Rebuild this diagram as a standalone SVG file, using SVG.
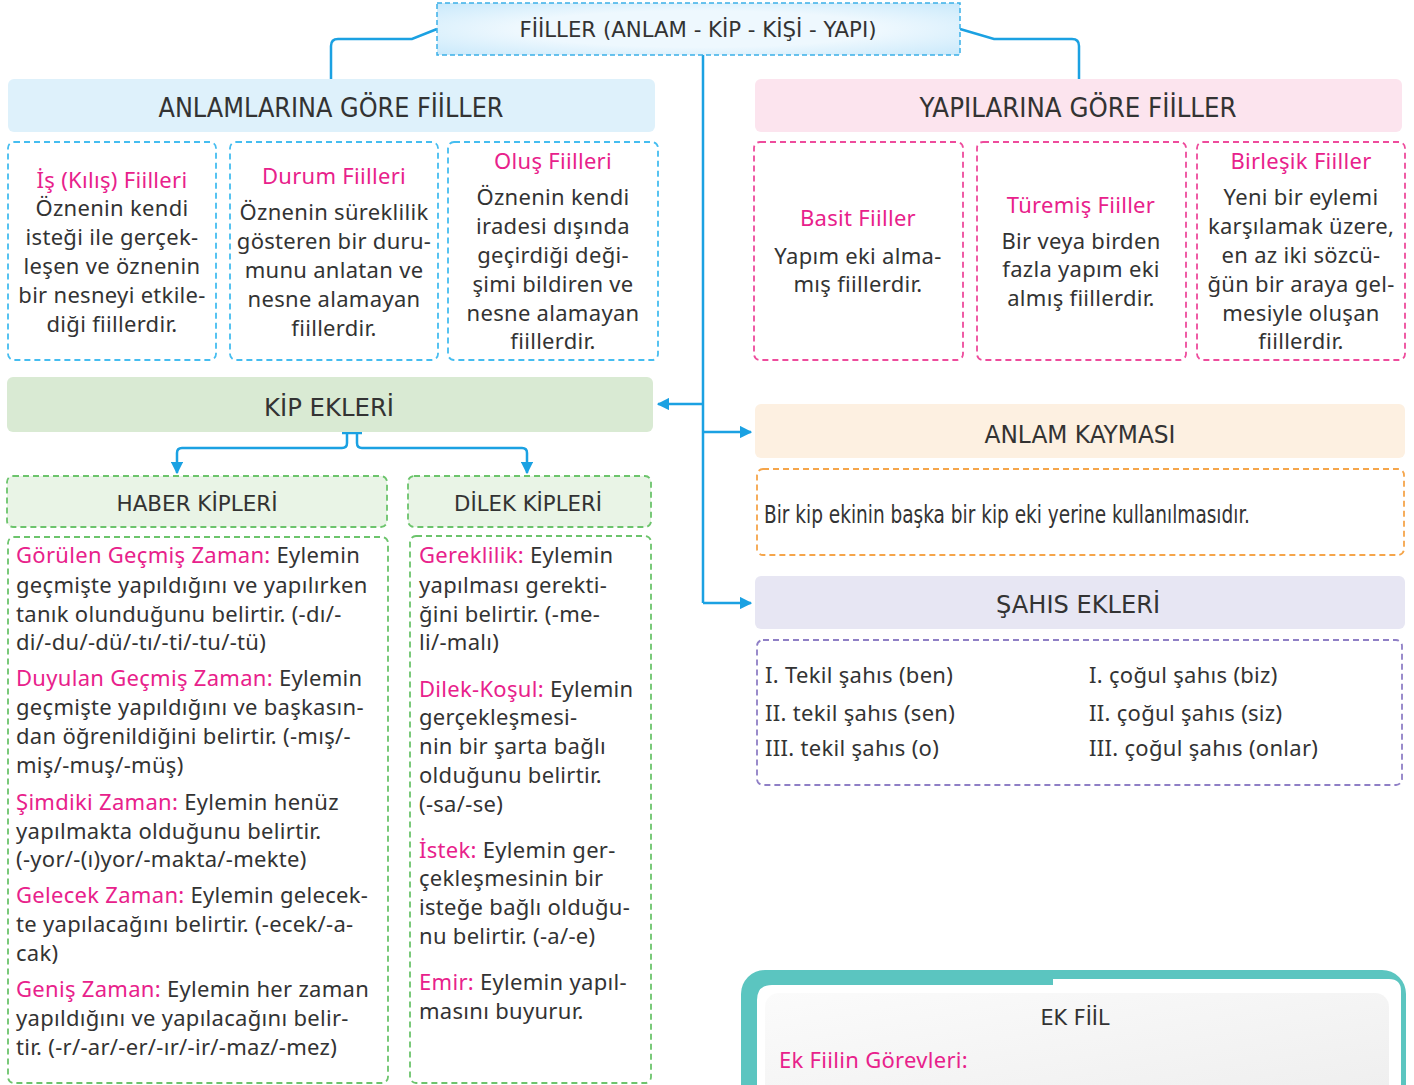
<svg xmlns="http://www.w3.org/2000/svg" width="1414" height="1085" viewBox="0 0 1414 1085">
<style>
.hd{font-family:"DejaVu Sans Condensed","Liberation Sans",sans-serif;fill:#333;text-anchor:middle}
.bd{font-family:"Noto Sans","Open Sans",sans-serif;font-size:22px;letter-spacing:0.3px;fill:#333}
.c{text-anchor:middle}
.pk{fill:#e8218b}
.conn{fill:none;stroke:#1ba1e2;stroke-width:2.5}
.dbl{fill:#fff;stroke:#45bdf0;stroke-width:1.8;stroke-dasharray:6 4}
.dpk{fill:#fff;stroke:#ee4b9c;stroke-width:1.8;stroke-dasharray:6 4}
.dgr{stroke:#6cc46c;stroke-width:1.8;stroke-dasharray:6 4}
</style>
<defs>
<marker id="ah" viewBox="0 0 10 10" refX="9" refY="5" markerWidth="5" markerHeight="5" orient="auto" markerUnits="strokeWidth">
<path d="M0,0 L10,5 L0,10 Z" fill="#1ba1e2"/>
</marker>
<radialGradient id="tg" cx="0.5" cy="0.5" r="0.7">
<stop offset="0.5" stop-color="#eef8fe"/>
<stop offset="1" stop-color="#c9e9fb"/>
</radialGradient>
<linearGradient id="eg" x1="0" y1="0" x2="1" y2="1">
<stop offset="0" stop-color="#fbfbfb"/>
<stop offset="1" stop-color="#eeeeee"/>
</linearGradient>
</defs>
<rect width="1414" height="1085" fill="#fff"/>

<g id="connectors">
<path class="conn" d="M437,29 L412,39 L338,39 Q331,39 331,46 L331,79"/>
<path class="conn" d="M960,29 L994,39 L1072,39 Q1079,39 1079,46 L1079,79"/>
<path class="conn" d="M703,55 V603"/>
<path class="conn" d="M703,404 H658" marker-end="url(#ah)"/>
<path class="conn" d="M703,432 H751" marker-end="url(#ah)"/>
<path class="conn" d="M703,603 H751" marker-end="url(#ah)"/>
<path class="conn" d="M342,433 H362"/>
<path class="conn" d="M347,433 V443 Q347,448 342,448 H182 Q177,448 177,453 V473" marker-end="url(#ah)"/>
<path class="conn" d="M357,433 V443 Q357,448 362,448 H522 Q527,448 527,453 V473" marker-end="url(#ah)"/>
</g>

<g id="title">
<rect x="437" y="3" width="523" height="52" fill="url(#tg)" stroke="#3bb0e8" stroke-width="1.5" stroke-dasharray="5 3"/>
<text class="hd" x="698" y="37" font-size="21" textLength="357" lengthAdjust="spacingAndGlyphs">FİİLLER (ANLAM - KİP - KİŞİ - YAPI)</text>
</g>

<g id="anlam-header">
<rect x="8" y="79" width="647" height="53" rx="6" fill="#def1fb"/>
<text class="hd" x="331" y="117" font-size="26" textLength="345" lengthAdjust="spacingAndGlyphs">ANLAMLARINA GÖRE FİİLLER</text>
</g>
<g id="yapi-header">
<rect x="755" y="79" width="647" height="53" rx="6" fill="#fce4ee"/>
<text class="hd" x="1078" y="117" font-size="26" textLength="317" lengthAdjust="spacingAndGlyphs">YAPILARINA GÖRE FİİLLER</text>
</g>

<g id="is-fiilleri">
<rect class="dbl" x="8" y="142" width="208" height="218" rx="6"/>
<text class="bd c" x="112"><tspan class="pk" x="112" y="188">İş (Kılış) Fiilleri</tspan><tspan x="112" y="216">Öznenin kendi</tspan><tspan x="112" y="245">isteği ile gerçek-</tspan><tspan x="112" y="274">leşen ve öznenin</tspan><tspan x="112" y="303">bir nesneyi etkile-</tspan><tspan x="112" y="332">diği fiillerdir.</tspan></text>
</g>
<g id="durum-fiilleri">
<rect class="dbl" x="230" y="142" width="208" height="218" rx="6"/>
<text class="bd c" x="334"><tspan class="pk" x="334" y="184">Durum Fiilleri</tspan><tspan x="334" y="220">Öznenin süreklilik</tspan><tspan x="334" y="249">gösteren bir duru-</tspan><tspan x="334" y="278">munu anlatan ve</tspan><tspan x="334" y="307">nesne alamayan</tspan><tspan x="334" y="336">fiillerdir.</tspan></text>
</g>
<g id="olus-fiilleri">
<rect class="dbl" x="448" y="142" width="210" height="218" rx="6"/>
<text class="bd c" x="553"><tspan class="pk" x="553" y="169">Oluş Fiilleri</tspan><tspan x="553" y="205">Öznenin kendi</tspan><tspan x="553" y="234">iradesi dışında</tspan><tspan x="553" y="263">geçirdiği deği-</tspan><tspan x="553" y="292">şimi bildiren ve</tspan><tspan x="553" y="321">nesne alamayan</tspan><tspan x="553" y="349">fiillerdir.</tspan></text>
</g>
<g id="basit-fiiller">
<rect class="dpk" x="754" y="142" width="209" height="218" rx="6"/>
<text class="bd c" x="858"><tspan class="pk" x="858" y="226">Basit Fiiller</tspan><tspan x="858" y="264">Yapım eki alma-</tspan><tspan x="858" y="292">mış fiillerdir.</tspan></text>
</g>
<g id="turemis-fiiller">
<rect class="dpk" x="977" y="142" width="209" height="218" rx="6"/>
<text class="bd c" x="1081"><tspan class="pk" x="1081" y="213">Türemiş Fiiller</tspan><tspan x="1081" y="249">Bir veya birden</tspan><tspan x="1081" y="277">fazla yapım eki</tspan><tspan x="1081" y="306">almış fiillerdir.</tspan></text>
</g>
<g id="birlesik-fiiller">
<rect class="dpk" x="1197" y="142" width="208" height="218" rx="6"/>
<text class="bd c" x="1301"><tspan class="pk" x="1301" y="169">Birleşik Fiiller</tspan><tspan x="1301" y="205">Yeni bir eylemi</tspan><tspan x="1301" y="234">karşılamak üzere,</tspan><tspan x="1301" y="263">en az iki sözcü-</tspan><tspan x="1301" y="292">ğün bir araya gel-</tspan><tspan x="1301" y="321">mesiyle oluşan</tspan><tspan x="1301" y="349">fiillerdir.</tspan></text>
</g>

<g id="kip-ekleri">
<rect x="7" y="377" width="646" height="55" rx="6" fill="#d9ead3"/>
<text class="hd" x="329" y="416" font-size="25" textLength="130" lengthAdjust="spacingAndGlyphs">KİP EKLERİ</text>
</g>
<g id="haber-kipleri">
<rect class="dgr" x="7" y="476" width="380" height="51" rx="6" fill="#e9f4e6"/>
<text class="hd" x="197" y="511" font-size="22" textLength="161" lengthAdjust="spacingAndGlyphs">HABER KİPLERİ</text>
</g>
<g id="dilek-kipleri">
<rect class="dgr" x="408" y="476" width="243" height="51" rx="6" fill="#e9f4e6"/>
<text class="hd" x="528" y="511" font-size="22" textLength="148" lengthAdjust="spacingAndGlyphs">DİLEK KİPLERİ</text>
</g>

<g id="haber-icerik">
<rect class="dgr" x="8" y="537" width="380" height="546" rx="6" fill="#fff"/>
<text class="bd" x="16">
<tspan x="16" y="563"><tspan class="pk">Görülen Geçmiş Zaman:</tspan> Eylemin</tspan>
<tspan x="16" y="593">geçmişte yapıldığını ve yapılırken</tspan>
<tspan x="16" y="622">tanık olunduğunu belirtir. (-dı/-</tspan>
<tspan x="16" y="650">di/-du/-dü/-tı/-ti/-tu/-tü)</tspan>
<tspan x="16" y="686"><tspan class="pk">Duyulan Geçmiş Zaman:</tspan> Eylemin</tspan>
<tspan x="16" y="715">geçmişte yapıldığını ve başkasın-</tspan>
<tspan x="16" y="744">dan öğrenildiğini belirtir. (-mış/-</tspan>
<tspan x="16" y="773">miş/-muş/-müş)</tspan>
<tspan x="16" y="810"><tspan class="pk">Şimdiki Zaman:</tspan> Eylemin henüz</tspan>
<tspan x="16" y="839">yapılmakta olduğunu belirtir.</tspan>
<tspan x="16" y="867">(-yor/-(ı)yor/-makta/-mekte)</tspan>
<tspan x="16" y="903"><tspan class="pk">Gelecek Zaman:</tspan> Eylemin gelecek-</tspan>
<tspan x="16" y="932">te yapılacağını belirtir. (-ecek/-a-</tspan>
<tspan x="16" y="961">cak)</tspan>
<tspan x="16" y="997"><tspan class="pk">Geniş Zaman:</tspan> Eylemin her zaman</tspan>
<tspan x="16" y="1026">yapıldığını ve yapılacağını belir-</tspan>
<tspan x="16" y="1055">tir. (-r/-ar/-er/-ır/-ir/-maz/-mez)</tspan>
</text>
</g>

<g id="dilek-icerik">
<rect class="dgr" x="410" y="536" width="241" height="547" rx="6" fill="#fff"/>
<text class="bd" x="419">
<tspan x="419" y="563"><tspan class="pk">Gereklilik:</tspan> Eylemin</tspan>
<tspan x="419" y="593">yapılması gerekti-</tspan>
<tspan x="419" y="622">ğini belirtir. (-me-</tspan>
<tspan x="419" y="650">li/-malı)</tspan>
<tspan x="419" y="697"><tspan class="pk">Dilek-Koşul:</tspan> Eylemin</tspan>
<tspan x="419" y="725">gerçekleşmesi-</tspan>
<tspan x="419" y="754">nin bir şarta bağlı</tspan>
<tspan x="419" y="783">olduğunu belirtir.</tspan>
<tspan x="419" y="812">(-sa/-se)</tspan>
<tspan x="419" y="858"><tspan class="pk">İstek:</tspan> Eylemin ger-</tspan>
<tspan x="419" y="886">çekleşmesinin bir</tspan>
<tspan x="419" y="915">isteğe bağlı olduğu-</tspan>
<tspan x="419" y="944">nu belirtir. (-a/-e)</tspan>
<tspan x="419" y="990"><tspan class="pk">Emir:</tspan> Eylemin yapıl-</tspan>
<tspan x="419" y="1019">masını buyurur.</tspan>
</text>
</g>

<g id="anlam-kaymasi">
<rect x="755" y="404" width="650" height="54" rx="6" fill="#fdf0e1"/>
<text class="hd" x="1080" y="443" font-size="25" textLength="191" lengthAdjust="spacingAndGlyphs">ANLAM KAYMASI</text>
</g>
<g id="anlam-kaymasi-icerik">
<rect x="757" y="469" width="647" height="86" rx="6" fill="#fff" stroke="#f5a54a" stroke-width="1.8" stroke-dasharray="6 4"/>
<text class="hd" x="764" y="523" font-size="24" style="text-anchor:start" textLength="486" lengthAdjust="spacingAndGlyphs">Bir kip ekinin başka bir kip eki yerine kullanılmasıdır.</text>
</g>

<g id="sahis-ekleri">
<rect x="755" y="576" width="650" height="53" rx="6" fill="#e7e6f3"/>
<text class="hd" x="1078" y="613" font-size="25" textLength="164" lengthAdjust="spacingAndGlyphs">ŞAHIS EKLERİ</text>
</g>
<g id="sahis-icerik">
<rect x="757" y="640" width="645" height="145" rx="6" fill="#fff" stroke="#8f7fc6" stroke-width="1.8" stroke-dasharray="6 4"/>
<text class="bd"><tspan x="765" y="683">I. Tekil şahıs (ben)</tspan><tspan x="765" y="721">II. tekil şahıs (sen)</tspan><tspan x="765" y="756">III. tekil şahıs (o)</tspan></text>
<text class="bd"><tspan x="1089" y="683">I. çoğul şahıs (biz)</tspan><tspan x="1089" y="721">II. çoğul şahıs (siz)</tspan><tspan x="1089" y="756">III. çoğul şahıs (onlar)</tspan></text>
</g>

<g id="ek-fiil">
<rect x="741" y="970" width="665" height="140" rx="24" fill="#5bc5c0"/>
<path d="M757,1000 Q757,985 772,985 H1053 V979 H1389 Q1401,979 1401,991 V1100 H757 Z" fill="#fff"/>
<rect x="765" y="993" width="624" height="110" rx="14" fill="url(#eg)"/>
<text class="hd" x="1075" y="1025" font-size="21" textLength="69" lengthAdjust="spacingAndGlyphs">EK FİİL</text>
<text class="bd pk" x="779" y="1068">Ek Fiilin Görevleri:</text>
</g>
</svg>
